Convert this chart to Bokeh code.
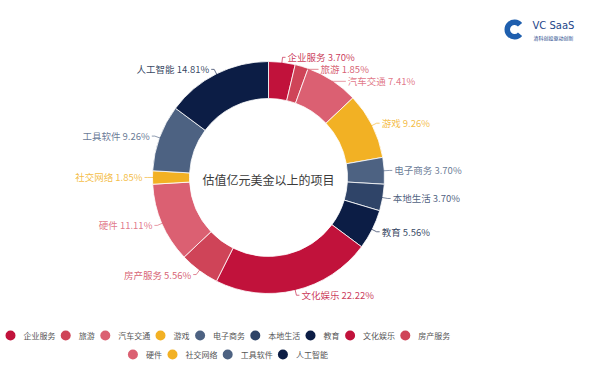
import math
from bokeh.plotting import figure
from bokeh.models import Range1d, ColumnDataSource
from bokeh.core.properties import value
from bokeh.embed import file_html
from bokeh.resources import INLINE

# ---------------- data ----------------
categories = ["企业服务", "旅游", "汽车交通", "游戏", "电子商务", "本地生活", "教育",
              "文化娱乐", "房产服务", "硬件", "社交网络", "工具软件", "人工智能"]
percents = [3.70, 1.85, 7.41, 9.26, 3.70, 3.70, 5.56, 22.22, 5.56, 11.11, 1.85, 9.26, 14.81]
palette = ["#c1123b", "#cf4458", "#db6072", "#f2b124", "#4d6282", "#2f4468", "#0c1d45",
           "#c1123b", "#cf4458", "#db6072", "#f2b124", "#4d6282", "#0c1d45"]
center_title = "估值亿元美金以上的项目"
logo_title = "VC  SaaS"
logo_sub = "清科创投驱动创新"

FONT = "Noto Sans CJK SC"
W, H = 584, 362

p = figure(width=W, height=H, output_backend="svg", toolbar_location=None,
           x_range=Range1d(0, 584), y_range=Range1d(16, 378), min_border=0)
p.axis.visible = False
p.grid.visible = False
p.outline_line_color = None
p.background_fill_color = "white"

def Y(img_y):
    return 378 - img_y

# ---------------- donut ----------------
cx, cy_img = 268, 177
R_out, R_in = 116, 79
total = sum(percents)
starts, ends, mids = [], [], []
acc = 0.0
for v in percents:
    t0 = acc / total * 2 * math.pi
    acc += v
    t1 = acc / total * 2 * math.pi
    starts.append(math.pi / 2 - t0)
    ends.append(math.pi / 2 - t1)
    mids.append((t0 + t1) / 2)

src = ColumnDataSource(dict(start=starts, end=ends, color=palette))
p.annular_wedge(x=cx, y=Y(cy_img), inner_radius=R_in, outer_radius=R_out,
                start_angle="start", end_angle="end", direction="clock",
                fill_color="color", line_color="white", line_width=1, line_alpha=0.8,
                source=src)

p.text(x=[cx], y=[Y(cy_img + 2)], text=[center_title], text_font=value(FONT),
       text_font_size="12px", text_color="#3a3a3a", text_align="center",
       text_baseline="middle")

# ---------------- labels with leader lines ----------------
R_lab = 121
GAP = 12
labels = []
for i, th in enumerate(mids):
    lx = cx + R_lab * math.sin(th)
    ly = cy_img - R_lab * math.cos(th)
    ex = cx + (R_out - 1) * math.sin(th)
    ey = cy_img - (R_out - 1) * math.cos(th)
    side = 1 if math.sin(th) >= 0 else -1
    labels.append(dict(i=i, lx=lx, ly=ly, ly0=ly, ex=ex, ey=ey, side=side))

for side in (1, -1):
    grp = sorted([l for l in labels if l["side"] == side], key=lambda l: l["ly"])
    for a, b in zip(grp, grp[1:]):
        if b["ly"] < a["ly"] + GAP:
            b["ly"] = a["ly"] + GAP

for l in labels:
    i = l["i"]
    s = l["side"]
    shift = abs(l["ly"] - l["ly0"])
    hx = l["lx"] + (3 + 1.6 * shift) * s
    xs = [l["ex"], l["lx"], hx]
    ys = [Y(l["ey"]), Y(l["ly"]), Y(l["ly"])]
    p.line(xs, ys, line_color=palette[i], line_width=0.8, line_alpha=0.8)
    p.text(x=[hx + 2 * s], y=[Y(l["ly"])],
           text=[f"{categories[i]} {percents[i]:.2f}%"],
           text_font=value(FONT), text_font_size="9.5px",
           text_color=palette[i], text_alpha=0.85,
           text_align="left" if s > 0 else "right", text_baseline="middle")

# ---------------- legend (flow layout, centered rows) ----------------
LEG_FONT = 8
char_w = 7.8
legend_center = 227
row_y = [335, 354]
max_row = 450

def text_w(s):
    return len(s) * char_w

def row_width(items):
    pitches = [24 + text_w(categories[i]) for i in items]
    return sum(pitches[:-1]) + 18 + text_w(categories[items[-1]])

rows, cur = [], []
for i in range(len(categories)):
    if cur and row_width(cur + [i]) > max_row:
        rows.append(cur)
        cur = []
    cur.append(i)
rows.append(cur)

for r, items in enumerate(rows):
    pitches = [24 + text_w(categories[i]) for i in items]
    width = row_width(items)
    x = legend_center - width / 2 + 5
    for k, i in enumerate(items):
        p.scatter(x=[x], y=[Y(row_y[r])], size=10, marker="circle",
                  fill_color=palette[i], line_color=None)
        p.text(x=[x + 13], y=[Y(row_y[r])], text=[categories[i]],
               text_font=value(FONT), text_font_size=f"{LEG_FONT}px",
               text_color="#555555", text_baseline="middle", text_align="left")
        x += pitches[k]

# ---------------- logo ----------------
p.annular_wedge(x=[514], y=[Y(29)], inner_radius=4.5, outer_radius=10,
                start_angle=math.radians(40), end_angle=math.radians(320),
                direction="anticlock", fill_color="#1f5fae", line_color=None)
p.text(x=[532], y=[Y(25)], text=[logo_title], text_font=value("DejaVu Sans"),
       text_font_size="10px", text_color="#24468a", text_baseline="middle")
p.text(x=[533], y=[Y(37)], text=[logo_sub], text_font=value(FONT),
       text_font_size="5px", text_color="#24468a", text_baseline="middle")

open("out.html", "w").write(file_html(p, INLINE))
